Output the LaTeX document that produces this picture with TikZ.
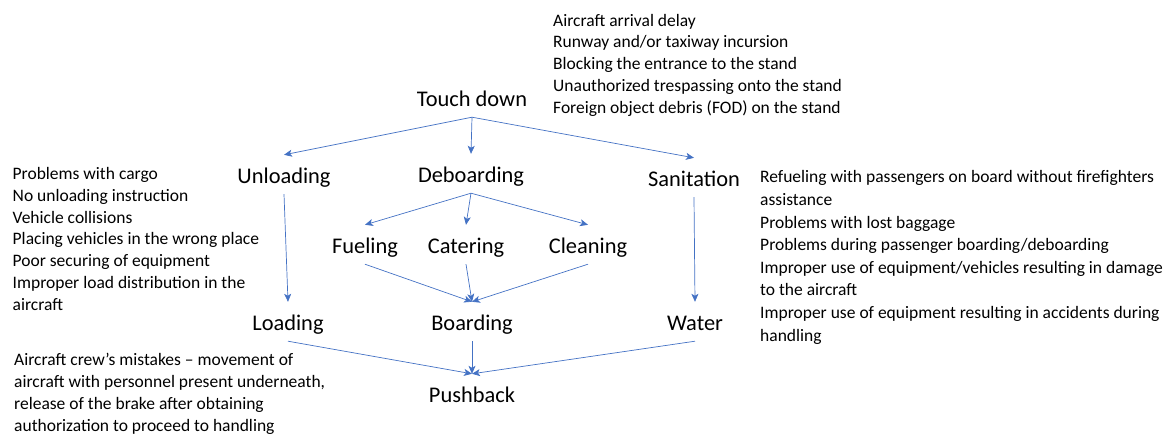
\documentclass[tikz,border=0pt]{standalone}
\usepackage{fontspec}
\setmainfont{Carlito}
\usetikzlibrary{arrows.meta}
\definecolor{arrblue}{HTML}{4472C4}
\tikzset{
  stage/.style={font=\fontsize{22.4}{26}\selectfont, inner sep=0pt, text height=16pt, text depth=5pt, anchor=base},
  risk/.style={font=\fontsize{17.5}{21.7}\selectfont, inner sep=0pt, align=left, anchor=base west},
  riskwide/.style={risk, font=\fontsize{17.5}{22.6}\selectfont},
  arr/.style={draw=arrblue, line width=0.7pt, -{Stealth[length=8pt,width=7pt,inset=2pt]}}
}
\begin{document}
\begin{tikzpicture}[x=1pt,y=-1pt]
\useasboundingbox (0,0) rectangle (1165,437);
\node[stage] (td) at (472,106) {Touch down};
\node[stage] (unl) at (284,183) {Unloading};
\node[stage] (deb) at (471,182) {Deboarding};
\node[stage] (san) at (694,186) {Sanitation};
\node[stage] (fuel) at (365,253) {Fueling};
\node[stage] (cat) at (466,253) {Catering};
\node[stage] (clean) at (588,253) {Cleaning};
\node[stage] (load) at (288,330) {Loading};
\node[stage] (board) at (472,330) {Boarding};
\node[stage] (water) at (695,330) {Water};
\node[stage] (push) at (472,402) {Pushback};

\foreach \a/\b in {td/unl, td/deb, td/san, unl/load, deb/fuel, deb/cat, deb/clean, san/water, fuel/board, cat/board, clean/board, load/push, board/push, water/push}
  \draw[arr] ([yshift=-6pt]\a.south) -- ([yshift=12pt]\b.north);

\node[risk] (r1) at (553,113) {Aircraft arrival delay\\Runway and/or taxiway incursion\\Blocking the entrance to the stand\\Unauthorized trespassing onto the stand\\Foreign object debris (FOD) on the stand};
\node[risk] (r2) at (12.5,310) {Problems with cargo\\No unloading instruction\\Vehicle collisions\\Placing vehicles in the wrong place\\Poor securing of equipment\\Improper load distribution in the\\aircraft};
\node[riskwide] (r3) at (760,341) {Refueling with passengers on board without firefighters\\assistance\\Problems with lost baggage\\Problems during passenger boarding/deboarding\\Improper use of equipment/vehicles resulting in damage\\to the aircraft\\Improper use of equipment resulting in accidents during\\handling};
\node[risk] (r4) at (14,431) {Aircraft crew’s mistakes – movement of\\aircraft with personnel present underneath,\\release of the brake after obtaining\\authorization to proceed to handling};
\end{tikzpicture}
\end{document}
